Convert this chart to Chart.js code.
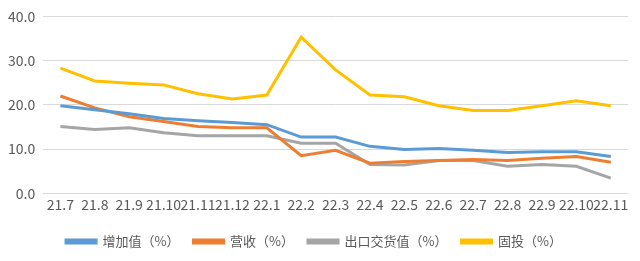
<!DOCTYPE html>
<html><head><meta charset="utf-8">
<script src="https://cdn.jsdelivr.net/npm/chart.js@4/dist/chart.umd.min.js"></script>
<style>html,body{margin:0;padding:0;background:#fff}#w{width:640px;height:261px}</style>
</head><body><div id="w"><canvas id="c"></canvas></div>
<script>
const categories = ["21.7","21.8","21.9","21.10","21.11","21.12","22.1","22.2","22.3","22.4","22.5","22.6","22.7","22.8","22.9","22.10","22.11"];
const addedValue = [19.8,18.9,18.0,16.9,16.4,16.0,15.5,12.7,12.7,10.6,9.9,10.1,9.7,9.2,9.4,9.4,8.3];
const revenue = [22.0,19.3,17.3,16.2,15.1,14.8,14.8,8.5,9.7,6.8,7.2,7.4,7.6,7.4,7.9,8.3,7.0];
const exportValue = [15.1,14.4,14.8,13.7,13.0,13.0,13.0,11.3,11.3,6.5,6.4,7.4,7.4,6.1,6.5,6.1,3.4];
const fixedInvest = [28.3,25.4,24.9,24.5,22.5,21.3,22.2,35.3,27.9,22.2,21.8,19.8,18.7,18.7,19.8,20.9,19.8];
const yTicks = [0,10,20,30,40];
const seriesNames = ["增加值（%）","营收（%）","出口交货值（%）","固投（%）"];
const colors = ["#5B9BD5","#ED7D31","#A5A5A5","#FFC000"];
const font = "'Noto Sans CJK SC', 'Open Sans', sans-serif";
const mk = (i, d) => ({label: seriesNames[i], data: d, borderColor: colors[i], backgroundColor: colors[i], borderWidth: 3, pointRadius: 0, tension: 0, fill: false});
new Chart(document.getElementById('c'), {
  type: 'line',
  data: {labels: categories, datasets: [mk(0, addedValue), mk(1, revenue), mk(2, exportValue), mk(3, fixedInvest)]},
  options: {
    responsive: true, maintainAspectRatio: false, animation: false,
    layout: {padding: {left: 0, right: 12, top: 0, bottom: 3}},
    plugins: {
      legend: {position: 'bottom', labels: {boxWidth: 30, boxHeight: 3, padding: 14, color: '#595959', font: {family: font, size: 13}}},
      tooltip: {enabled: false}
    },
    scales: {
      x: {offset: true, grid: {display: false, drawTicks: false}, border: {display: false},
          afterFit: s => { s.height += 5; },
          ticks: {color: '#595959', font: {family: font, size: 14}, maxRotation: 0, autoSkip: false, padding: 3}},
      y: {min: 0, max: 40, afterBuildTicks: a => { a.ticks = yTicks.map(v => ({value: v})); },
          grid: {color: '#D9D9D9', drawTicks: false, lineWidth: 1}, border: {display: false},
          ticks: {color: '#595959', font: {family: font, size: 14}, padding: 8, callback: v => Number(v).toFixed(1)}}
    }
  }
});
</script></body></html>
